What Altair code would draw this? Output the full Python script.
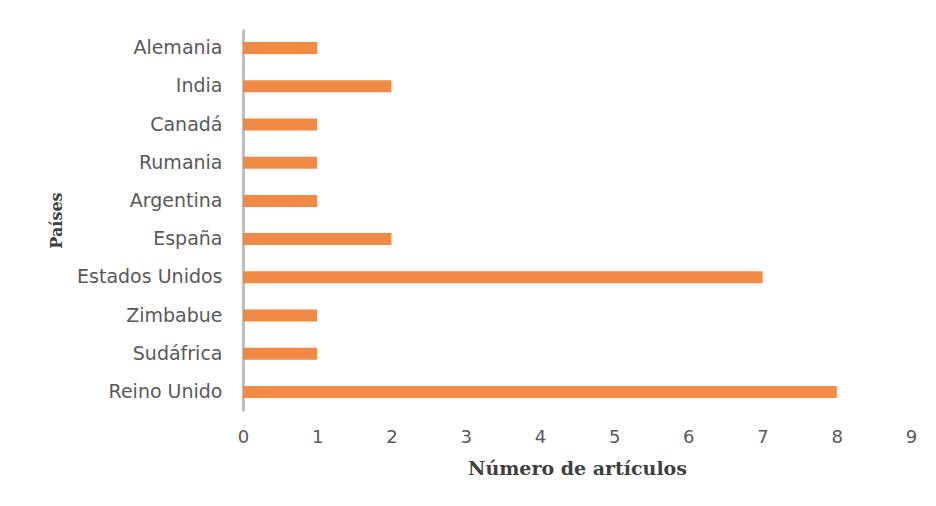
import altair as alt
import pandas as pd

paises = ["Alemania", "India", "Canadá", "Rumania", "Argentina", "España",
          "Estados Unidos", "Zimbabue ", "Sudáfrica", "Reino Unido"]
articulos = [1, 2, 1, 1, 1, 2, 7, 1, 1, 8]
ticks = [0, 1, 2, 3, 4, 5, 6, 7, 8, 9]

df = pd.DataFrame({"pais": paises, "n": articulos})

bars = alt.Chart(df).mark_bar(size=12, color="#F08A44").encode(
    x=alt.X("n:Q", scale=alt.Scale(domain=[0, 9], nice=False),
            axis=alt.Axis(values=ticks, title="Número de artículos", grid=False, ticks=False,
                          domain=False, labelPadding=17, labelFontSize=18, labelColor="#595959",
                          labelFlush=False,
                          labelFont="DejaVu Sans", titleFont="DejaVu Serif", titleFontSize=19,
                          titleFontWeight="bold", titleColor="#404040", titlePadding=13)),
    y=alt.Y("pais:N", sort=paises,
            axis=alt.Axis(title="Países", ticks=False, domainColor="#BFBFBF", domainWidth=3,
                          labelPadding=21, labelFontSize=19, labelColor="#595959",
                          labelFont="DejaVu Sans", titleFont="DejaVu Serif", titleFontSize=16,
                          titleFontWeight="bold", titleColor="#404040", titlePadding=12)),
)

chart = bars.properties(
    width=668, height=382,
    autosize=alt.AutoSizeParams(type="none"),
    padding={"left": 235, "top": 21, "right": 17, "bottom": 87},
).configure(background="white").configure_view(stroke=None)

chart.save("out.html", embed_options={"renderer": "svg", "actions": False})
